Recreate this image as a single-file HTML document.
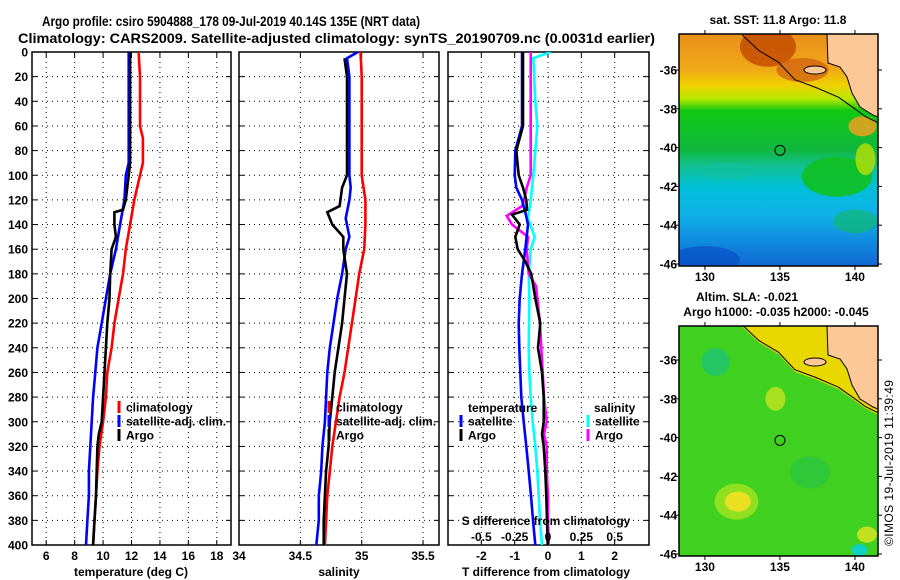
<!DOCTYPE html>
<html><head><meta charset="utf-8">
<style>
html,body{margin:0;padding:0;background:#fff;}
svg{display:block;font-family:"Liberation Sans",Arial,sans-serif;font-weight:bold;}
</style></head>
<body>
<svg id="fig" width="900" height="580" viewBox="0 0 900 580" xmlns="http://www.w3.org/2000/svg">
<defs>
<linearGradient id="sstgrad" x1="0" y1="0" x2="0" y2="1">
<stop offset="0" stop-color="#e8901a"/><stop offset="0.15" stop-color="#f0a818"/>
<stop offset="0.22" stop-color="#f0d000"/><stop offset="0.28" stop-color="#b8e800"/>
<stop offset="0.33" stop-color="#10c810"/><stop offset="0.5" stop-color="#10b840"/>
<stop offset="0.57" stop-color="#10c090"/><stop offset="0.66" stop-color="#00c0d8"/>
<stop offset="0.78" stop-color="#10b0e8"/><stop offset="0.88" stop-color="#1090e0"/>
<stop offset="1" stop-color="#1068d0"/></linearGradient>
<clipPath id="clip1"><rect x="679" y="34" width="199" height="232"/></clipPath>
<clipPath id="clip2"><rect x="679" y="326" width="199" height="230"/></clipPath>
<clipPath id="cp1"><rect x="32" y="52" width="199" height="493"/></clipPath>
<clipPath id="cp2"><rect x="239" y="52" width="200" height="493"/></clipPath>
<clipPath id="cp3"><rect x="448" y="52" width="201" height="493"/></clipPath>
</defs>
<text x="42" y="26" font-size="14" textLength="378" lengthAdjust="spacingAndGlyphs">Argo profile: csiro 5904888_178 09-Jul-2019 40.14S 135E (NRT data)</text>
<text x="18" y="43" font-size="14" textLength="637" lengthAdjust="spacingAndGlyphs">Climatology: CARS2009. Satellite-adjusted climatology: synTS_20190709.nc (0.0031d earlier)</text>
<g id="plots"></g>
<g id="maps"></g>
<text transform="translate(893,546) rotate(-90)" font-size="12" font-weight="normal" textLength="166">©IMOS 19-Jul-2019 11:39:49</text>
</svg>
<script>
// ---- data ----
const depthT = [0,20,40,60,70,90,100,120,140,160,180,200,220,240,260,280,300,320,340,360,380,400];
const tempClim = [12.5,12.6,12.6,12.6,12.8,12.8,12.6,12.2,11.9,11.6,11.4,11.1,10.8,10.6,10.3,10.2,10.0,9.75,9.6,9.5,9.4,9.3];
const tempSat = [11.8,11.8,11.8,11.8,11.8,11.8,11.6,11.5,11.2,10.9,10.5,10.2,9.9,9.6,9.45,9.3,9.2,9.1,9.0,9.0,8.9,8.8];
const depthArgoT = [0,20,40,60,80,90,100,120,128,130,140,150,160,180,200,220,240,260,280,300,310,320,340,360,380,400];
const tempArgo = [11.9,11.9,11.9,11.9,11.9,11.9,11.8,11.6,11.4,10.8,10.8,10.9,10.6,10.5,10.45,10.3,10.2,10.1,10.0,9.9,9.7,9.6,9.55,9.5,9.4,9.3];

const depthS = [0,20,40,60,80,100,120,140,160,180,200,220,240,260,280,300,320,340,360,380,400];
const salClim = [34.99,35.0,35.0,35.0,35.0,35.0,35.03,35.03,35.02,34.98,34.95,34.92,34.89,34.86,34.82,34.79,34.76,34.74,34.72,34.71,34.70];
const depthSatS = [0,5,20,60,100,110,120,135,150,160,180,200,220,240,260,280,300,320,340,360,380,400];
const salSat = [34.97,34.88,34.9,34.9,34.9,34.91,34.9,34.87,34.9,34.87,34.84,34.8,34.77,34.74,34.72,34.71,34.7,34.68,34.67,34.65,34.65,34.63];
const depthArgoS = [5,20,60,100,110,125,130,140,150,160,180,200,220,240,260,280,300,320,340,360,380,400];
const salArgo = [34.86,34.88,34.88,34.88,34.84,34.82,34.72,34.76,34.85,34.85,34.88,34.86,34.84,34.81,34.78,34.76,34.74,34.73,34.71,34.70,34.69,34.69];

const depthD = [0,20,40,60,80,100,110,120,130,140,160,180,200,220,240,260,280,300,320,340,360,380,400];
const dTsat = [-0.78,-0.78,-0.78,-0.78,-0.98,-1.0,-0.95,-0.78,-0.68,-0.6,-0.68,-0.78,-0.85,-0.88,-0.86,-0.83,-0.8,-0.73,-0.65,-0.58,-0.51,-0.45,-0.38];
const depthDA = [0,20,40,60,80,100,110,120,128,132,140,150,160,170,180,200,220,240,260,280,300,310,320,340,360,380,400];
const dTargo = [-0.75,-0.75,-0.75,-0.75,-0.95,-0.88,-0.75,-0.65,-0.63,-1.08,-0.85,-0.98,-0.91,-0.68,-0.5,-0.38,-0.23,-0.3,-0.18,-0.13,-0.13,-0.18,-0.13,-0.08,-0.05,-0.03,-0.01];
const depthDS = [0,5,40,60,100,120,135,150,160,180,200,240,260,280,300,320,340,360,380,400];
const dSsat = [0.02,-0.11,-0.095,-0.08,-0.11,-0.13,-0.15,-0.10,-0.13,-0.145,-0.14,-0.145,-0.14,-0.13,-0.115,-0.095,-0.08,-0.07,-0.06,-0.045];
const depthDSA = [0,40,80,100,110,120,125,133,140,150,160,180,190,200,220,240,260,280,300,310,320,340,360,380,400];
const dSargo = [-0.13,-0.13,-0.13,-0.13,-0.16,-0.18,-0.195,-0.31,-0.27,-0.15,-0.16,-0.145,-0.09,-0.08,-0.06,-0.05,-0.04,-0.03,-0.01,-0.03,-0.01,-0.01,0,0,0.005];

const depthTicks = [0,20,40,60,80,100,120,140,160,180,200,220,240,260,280,300,320,340,360,380,400];
const tempTicks = [6,8,10,12,14,16,18];
const salTicks = [34,34.5,35,35.5];
const dTTicks = [-2,-1,0,1,2];
const dSTicks = [-0.5,-0.25,0,0.25,0.5];
const latTicks = [-36,-38,-40,-42,-44,-46];
const lonTicks = [130,135,140];
const floatLon = 135, floatLat = -40.14;
const coastLon = [132.5,133.6,134.9,136.0,137.4,138.9,140.0,140.7,141.5];
const coastLat = [-34.2,-35.0,-35.6,-36.5,-36.9,-37.4,-38.0,-38.4,-38.7];

// ---- helpers ----
const NS = 'http://www.w3.org/2000/svg';
const plots = document.getElementById('plots');
const maps = document.getElementById('maps');
function mk(tag, attrs, parent){ const e=document.createElementNS(NS,tag); for(const k in attrs) e.setAttribute(k,attrs[k]); parent.appendChild(e); return e; }
const Y0=52, Y1=545;
const yD = d => Y0 + d/400*(Y1-Y0);
function linX(d0,d1,p0,p1){ return v => p0 + (v-d0)/(d1-d0)*(p1-p0); }
const xT = linX(5,19,32,231);
const xS = linX(34,35.63,239,439);
const xDT = linX(-3,3.03,448,649);
const xDS = v => xDT(v*4);

function panel(name, L, R, xf, ticks, fmt, showY){
  const g = mk('g',{},plots);
  
  
  depthTicks.forEach(d=>{
    if(d>0 && d<400){ const l=mk('line',{x1:L,x2:R,y1:yD(d),y2:yD(d),stroke:'#000','stroke-width':1,'stroke-dasharray':'1,4'},g);
        }
    mk('line',{x1:L,x2:L+5,y1:yD(d),y2:yD(d),stroke:'#000'},g);
    mk('line',{x1:R-5,x2:R,y1:yD(d),y2:yD(d),stroke:'#000'},g);
    if(showY){ const t=mk('text',{x:28,y:yD(d)+4.5,'font-size':12,'text-anchor':'end'},g); t.textContent=d;
        }
  });
  ticks.forEach(v=>{
    const x=xf(v);
    if(x>L+2 && x<R-2){ const l=mk('line',{x1:x,x2:x,y1:Y0,y2:Y1,stroke:'#000','stroke-dasharray':'1,4'},g);
        }
    mk('line',{x1:x,x2:x,y1:Y1-5,y2:Y1,stroke:'#000'},g);
    mk('line',{x1:x,x2:x,y1:Y0,y2:Y0+5,stroke:'#000'},g);
    if(fmt){ const t=mk('text',{x:x,y:560,'font-size':12,'text-anchor':'middle'},g); t.textContent=fmt(v);
        }
  });
  const fr=mk('rect',{x:L,y:Y0,width:R-L,height:Y1-Y0,fill:'none',stroke:'#000','stroke-width':1.5},g);
   
  return g;
}
function line(g, xs, ds, xf, color, name, clip){
  const pts = xs.map((v,i)=>xf(v).toFixed(1)+','+yD(ds[i]).toFixed(1)).join(' ');
  const p = mk('polyline',{points:pts,fill:'none',stroke:color,'stroke-width':2.6,'stroke-linejoin':'miter','clip-path':'url(#'+clip+')'},g);
  
  
}
function txt(g,x,y,s,str,name,anchor){ const t=mk('text',{x:x,y:y,'font-size':s,'text-anchor':anchor||'start'},g); t.textContent=str;
  
  
  return t; }
function legendItem(g,x,y,color,label,name){
  const li = mk('g',{},g);
  
  
  mk('line',{x1:x,x2:x,y1:y-6,y2:y+6,stroke:color,'stroke-width':3},li);
  txt(li,x+7,y+4.5,12,label,name+'-label');
}

// Panel 1: temperature
const g1 = panel('temperature-panel',32,231,xT,tempTicks,v=>v,true);
line(g1,tempClim,depthT,xT,'#ff0000','temperature-climatology-line','cp1');
line(g1,tempSat,depthT,xT,'#0000ff','temperature-satellite-line','cp1');
line(g1,tempArgo,depthArgoT,xT,'#000000','temperature-argo-line','cp1');
legendItem(g1,119,407,'#ff0000','climatology','legend-climatology');
legendItem(g1,119,421,'#0000ff','satellite-adj. clim.','legend-satellite-adj');
legendItem(g1,119,435,'#000000','Argo','legend-argo');
txt(g1,131,576,12,'temperature (deg C)','x-axis-title-temperature','middle');

// Panel 2: salinity
const g2 = panel('salinity-panel',239,439,xS,salTicks,v=>v,false);
line(g2,salClim,depthS,xS,'#ff0000','salinity-climatology-line','cp2');
line(g2,salSat,depthSatS,xS,'#0000ff','salinity-satellite-line','cp2');
line(g2,salArgo,depthArgoS,xS,'#000000','salinity-argo-line','cp2');
legendItem(g2,329,407,'#ff0000','climatology','legend-climatology-sal');
legendItem(g2,329,421,'#0000ff','satellite-adj. clim.','legend-satellite-adj-sal');
legendItem(g2,329,435,'#000000','Argo','legend-argo-sal');
txt(g2,339,576,12,'salinity','x-axis-title-salinity','middle');

// Panel 3: differences
const g3 = panel('difference-panel',448,649,xDT,dTTicks,v=>v,false);
line(g3,dSsat,depthDS,xDS,'#00ffff','s-diff-satellite-line','cp3');
line(g3,dSargo,depthDSA,xDS,'#ff00ff','s-diff-argo-line','cp3');
line(g3,dTsat,depthD,xDT,'#0000ff','t-diff-satellite-line','cp3');
line(g3,dTargo,depthDA,xDT,'#000000','t-diff-argo-line','cp3');
txt(g3,468,412,12,'temperature','legend-temperature-header');
legendItem(g3,461,421,'#0000ff','satellite','legend-t-satellite');
legendItem(g3,461,435,'#000000','Argo','legend-t-argo');
txt(g3,594,412,12,'salinity','legend-salinity-header');
legendItem(g3,588,421,'#00ffff','satellite','legend-s-satellite');
legendItem(g3,588,435,'#ff00ff','Argo','legend-s-argo');
txt(g3,546,525,12,'S difference from climatology','s-axis-title','middle');
dSTicks.forEach(v=>{ txt(g3,xDS(v),541,12,String(v),'s-tick-label','middle'); });
txt(g3,546,576,12,'T difference from climatology','x-axis-title-tdiff','middle');

// ---- maps ----
function drawMap(name, top, bot, y36, title, isSST){
  const g = mk('g',{},maps);
  
  
  const L=679,R=878;
  const px = lon => L + (lon-128.27)*15;
  const py = lat => y36 + (-36-lat)*19.4;
  const clip = isSST ? 'clip1' : 'clip2';
  const body = mk('g',{'clip-path':'url(#'+clip+')'},g);
  if(isSST){
    mk('rect',{x:L,y:top,width:R-L,height:bot-top,fill:'url(#sstgrad)'},body);
    mk('ellipse',{cx:px(134.2),cy:py(-34.8),rx:28,ry:20,fill:'#c04800',opacity:0.8},body);
    mk('ellipse',{cx:px(136.5),cy:py(-36),rx:26,ry:12,fill:'#d06010',opacity:0.75},body);
    mk('ellipse',{cx:px(138.8),cy:py(-41.5),rx:35,ry:20,fill:'#10c020',opacity:0.9},body);
    mk('ellipse',{cx:px(140),cy:py(-43.8),rx:22,ry:12,fill:'#10b870',opacity:0.7},body);
    mk('ellipse',{cx:px(140.7),cy:py(-40.6),rx:10,ry:16,fill:'#b8e000',opacity:0.8},body);
    mk('ellipse',{cx:px(140.5),cy:py(-38.9),rx:14,ry:10,fill:'#f0a020',opacity:0.85},body);
    mk('ellipse',{cx:px(130),cy:py(-45.8),rx:35,ry:14,fill:'#0850c8',opacity:0.7},body);
    mk('ellipse',{cx:px(131.5),cy:py(-41.2),rx:30,ry:8,fill:'#10c0a0',opacity:0.6},body);
  } else {
    mk('rect',{x:L,y:top,width:R-L,height:bot-top,fill:'#40d020'},body);
    mk('ellipse',{cx:px(130.7),cy:py(-36.1),rx:14,ry:14,fill:'#10c090',opacity:0.6},body);
    mk('ellipse',{cx:px(137),cy:py(-41.8),rx:20,ry:16,fill:'#20c050',opacity:0.5},body);
    mk('ellipse',{cx:px(132.1),cy:py(-43.3),rx:22,ry:18,fill:'#90e020'},body);
    mk('ellipse',{cx:px(132.2),cy:py(-43.3),rx:13,ry:10,fill:'#e8e020'},body);
    mk('ellipse',{cx:px(134.7),cy:py(-38),rx:10,ry:12,fill:'#a8e020'},body);
    mk('ellipse',{cx:px(140.3),cy:py(-45.8),rx:8,ry:6,fill:'#10d0c0'},body);
    mk('ellipse',{cx:px(140.8),cy:py(-45),rx:10,ry:8,fill:'#c0e020'},body);
    const band = coastLon.map((v,i)=>px(v)+','+(py(coastLat[i])+2)).join(' ');
    mk('polygon',{points:band+' '+R+','+top+' '+px(134.5)+','+top,fill:'#e8d800'},body);
  }
  // land
  mk('polygon',{points:'827,'+top+' 828,'+(top+29)+' 840,'+(top+33)+' 847,'+(top+43)+' 852,'+(top+59)+' 860,'+(top+73)+' 873,'+(top+81)+' 878,'+(top+83)+' 878,'+top,fill:'#fcc898',stroke:'#000','stroke-width':1},body);
  mk('ellipse',{cx:815,cy:top+36,rx:11,ry:4,fill:'#fcc898',stroke:'#000','stroke-width':1},body);
  const cpts = coastLon.map((v,i)=>px(v).toFixed(1)+','+py(coastLat[i]).toFixed(1)).join(' ');
  const cl = mk('polyline',{points:cpts,fill:'none',stroke:'#000','stroke-width':1},body);
  
  
  const m = mk('circle',{cx:px(floatLon),cy:py(floatLat),r:5,fill:'none',stroke:'#000','stroke-width':1},g);
  
  
  mk('rect',{x:L,y:top,width:R-L,height:bot-top,fill:'none',stroke:'#000','stroke-width':1.5},g);
  latTicks.forEach(v=>{ const y=py(v);
    mk('line',{x1:L-4,x2:L,y1:y,y2:y,stroke:'#000'},g); mk('line',{x1:R,x2:R+4,y1:y,y2:y,stroke:'#000'},g);
    txt(g,L-2,y+4.5,12,String(v),'lat-tick-label','end'); });
  lonTicks.forEach(v=>{ const x=px(v);
    mk('line',{x1:x,x2:x,y1:bot,y2:bot+4,stroke:'#000'},g); mk('line',{x1:x,x2:x,y1:top-4,y2:top,stroke:'#000'},g);
    txt(g,x,bot+15,12,String(v),'lon-tick-label','middle'); });
  title.forEach((t,i)=>txt(g,t[0],t[1],12,t[2],'map-title-'+(i+1),'middle'));
}
drawMap('sst-map',34,266,70,[[778,24,'sat. SST: 11.8 Argo: 11.8']],true);
drawMap('sla-map',326,556,360,[[747,301,'Altim. SLA: -0.021'],[776,316,'Argo h1000: -0.035 h2000: -0.045']],false);
</script>
</body></html>
